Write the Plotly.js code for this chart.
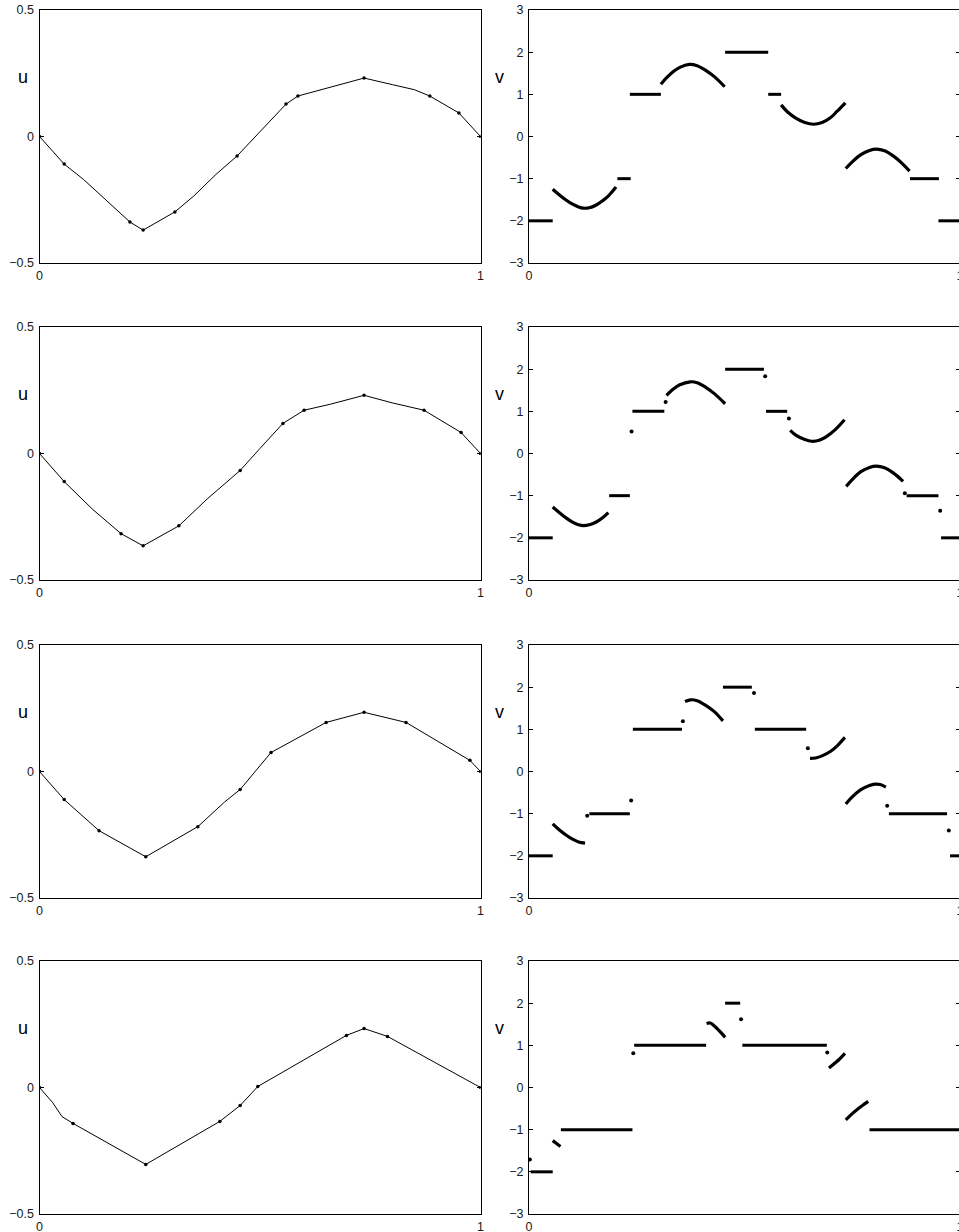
<!DOCTYPE html>
<html>
<head>
<meta charset="utf-8">
<script src="https://cdn.plot.ly/plotly-3.0.1.min.js"></script>
<style>
  html, body { margin: 0; padding: 0; overflow: hidden; background: #fff; }
  #chart { width: 964px; height: 1232px; }
</style>
</head>
<body>
<div id="chart"></div>
<script>
// ---- u(x): solution curve and node values, one set per row ----
const u1LineX = [0, 0.056, 0.10, 0.15, 0.205, 0.235, 0.307, 0.35, 0.40, 0.448, 0.50, 0.559, 0.586, 0.65, 0.70, 0.736, 0.80, 0.85, 0.885, 0.951, 1];
const u1LineY = [0, -0.109, -0.170, -0.250, -0.338, -0.370, -0.298, -0.235, -0.150, -0.077, 0.020, 0.128, 0.160, 0.190, 0.212, 0.231, 0.205, 0.185, 0.160, 0.093, 0];
const u1NodeX = [0, 0.056, 0.205, 0.235, 0.307, 0.448, 0.559, 0.586, 0.736, 0.885, 0.951, 1];
const u1NodeY = [0, -0.109, -0.338, -0.370, -0.298, -0.077, 0.128, 0.160, 0.231, 0.160, 0.093, 0];

const u2LineX = [0, 0.056, 0.12, 0.185, 0.235, 0.316, 0.38, 0.455, 0.50, 0.552, 0.600, 0.66, 0.736, 0.80, 0.872, 0.956, 1];
const u2LineY = [0, -0.111, -0.220, -0.317, -0.365, -0.286, -0.180, -0.067, 0.020, 0.119, 0.171, 0.195, 0.230, 0.200, 0.171, 0.083, 0];
const u2NodeX = [0, 0.056, 0.185, 0.235, 0.316, 0.455, 0.552, 0.600, 0.736, 0.872, 0.956, 1];
const u2NodeY = [0, -0.111, -0.317, -0.365, -0.286, -0.067, 0.119, 0.171, 0.230, 0.171, 0.083, 0];

const u3LineX = [0, 0.056, 0.135, 0.241, 0.359, 0.42, 0.455, 0.525, 0.650, 0.736, 0.831, 0.976, 1];
const u3LineY = [0, -0.111, -0.234, -0.337, -0.218, -0.120, -0.071, 0.075, 0.194, 0.234, 0.194, 0.044, 0];
const u3NodeX = [0, 0.056, 0.135, 0.241, 0.359, 0.455, 0.525, 0.650, 0.736, 0.831, 0.976, 1];
const u3NodeY = [0, -0.111, -0.234, -0.337, -0.218, -0.071, 0.075, 0.194, 0.234, 0.194, 0.044, 0];

const u4LineX = [0, 0.03, 0.051, 0.076, 0.241, 0.409, 0.455, 0.495, 0.696, 0.736, 0.789, 1];
const u4LineY = [0, -0.060, -0.115, -0.142, -0.304, -0.134, -0.071, 0.004, 0.206, 0.233, 0.202, 0];
const u4NodeX = [0, 0.076, 0.241, 0.409, 0.455, 0.495, 0.696, 0.736, 0.789, 1];
const u4NodeY = [0, -0.142, -0.304, -0.134, -0.071, 0.004, 0.206, 0.233, 0.202, 0];

// ---- v(x): constant pieces [xStart, xEnd, value], curved pieces, isolated values ----
const v1Flat = [[0, 0.055, -2], [0.205, 0.236, -1], [0.234, 0.306, 1], [0.455, 0.555, 2], [0.555, 0.585, 1], [0.884, 0.951, -1], [0.950, 1, -2]];
const v1ArcX = [
  [0.055, 0.07, 0.085, 0.10, 0.115, 0.126, 0.14, 0.155, 0.17, 0.185, 0.202],
  [0.306, 0.32, 0.335, 0.35, 0.372, 0.39, 0.41, 0.43, 0.454],
  [0.585, 0.60, 0.62, 0.64, 0.66, 0.68, 0.70, 0.715, 0.734],
  [0.735, 0.75, 0.77, 0.79, 0.806, 0.825, 0.845, 0.865, 0.883]
];
const v1ArcY = [
  [-1.25, -1.38, -1.50, -1.60, -1.67, -1.70, -1.69, -1.63, -1.53, -1.40, -1.20],
  [1.24, 1.40, 1.54, 1.64, 1.71, 1.68, 1.57, 1.42, 1.18],
  [0.75, 0.58, 0.43, 0.33, 0.29, 0.33, 0.45, 0.60, 0.80],
  [-0.76, -0.60, -0.43, -0.33, -0.30, -0.34, -0.46, -0.63, -0.82]
];
const v1DotX = [];
const v1DotY = [];

const v2Flat = [[0, 0.055, -2], [0.186, 0.234, -1], [0.240, 0.314, 1], [0.455, 0.545, 2], [0.550, 0.599, 1], [0.876, 0.950, -1], [0.956, 1, -2]];
const v2ArcX = [
  [0.055, 0.07, 0.085, 0.10, 0.115, 0.126, 0.14, 0.155, 0.17, 0.184],
  [0.319, 0.335, 0.35, 0.374, 0.39, 0.41, 0.43, 0.455],
  [0.606, 0.62, 0.64, 0.656, 0.675, 0.69, 0.71, 0.732],
  [0.736, 0.75, 0.77, 0.79, 0.806, 0.825, 0.845, 0.868]
];
const v2ArcY = [
  [-1.27, -1.40, -1.52, -1.62, -1.69, -1.71, -1.69, -1.63, -1.53, -1.40],
  [1.38, 1.53, 1.63, 1.70, 1.68, 1.57, 1.42, 1.18],
  [0.55, 0.43, 0.33, 0.29, 0.32, 0.40, 0.56, 0.80],
  [-0.78, -0.62, -0.43, -0.33, -0.30, -0.34, -0.46, -0.66]
];
const v2DotX = [0.238, 0.317, 0.548, 0.603, 0.872, 0.954];
const v2DotY = [0.52, 1.22, 1.83, 0.83, -0.94, -1.36];

const v3Flat = [[0, 0.055, -2], [0.14, 0.234, -1], [0.241, 0.355, 1], [0.45, 0.517, 2], [0.524, 0.643, 1], [0.835, 0.97, -1], [0.977, 1, -2]];
const v3ArcX = [
  [0.055, 0.07, 0.085, 0.10, 0.115, 0.13],
  [0.362, 0.375, 0.39, 0.41, 0.43, 0.450],
  [0.652, 0.665, 0.68, 0.70, 0.715, 0.733],
  [0.735, 0.75, 0.77, 0.79, 0.803, 0.815, 0.828]
];
const v3ArcY = [
  [-1.24, -1.38, -1.50, -1.60, -1.67, -1.70],
  [1.66, 1.70, 1.68, 1.57, 1.42, 1.20],
  [0.31, 0.32, 0.37, 0.48, 0.61, 0.81],
  [-0.77, -0.60, -0.43, -0.33, -0.30, -0.31, -0.37]
];
const v3DotX = [0.135, 0.237, 0.357, 0.522, 0.647, 0.831, 0.974];
const v3DotY = [-1.05, -0.69, 1.19, 1.86, 0.55, -0.81, -1.40];

const v4Flat = [[0.004, 0.055, -2], [0.074, 0.240, -1], [0.244, 0.411, 1], [0.455, 0.490, 2], [0.495, 0.691, 1], [0.790, 1, -1]];
const v4ArcX = [
  [0.055, 0.064, 0.073],
  [0.412, 0.42, 0.43, 0.44, 0.455],
  [0.696, 0.71, 0.72, 0.733],
  [0.735, 0.75, 0.765, 0.777, 0.787]
];
const v4ArcY = [
  [-1.26, -1.33, -1.40],
  [1.52, 1.53, 1.46, 1.36, 1.19],
  [0.46, 0.58, 0.67, 0.81],
  [-0.77, -0.62, -0.49, -0.40, -0.33]
];
const v4DotX = [0.002, 0.242, 0.492, 0.692];
const v4DotY = [-1.71, 0.81, 1.62, 0.83];

// ---- tick labels ----
const xTickVals = [0, 1];
const xTickText = ['0', '1'];
const uTickVals = [-0.5, 0, 0.5];
const vTickVals = [-3, -2, -1, 0, 1, 2, 3];

// ---- figure geometry (pixels) ----
const FIG_W = 964, FIG_H = 1232;
const rowTops = [10, 327, 645, 961];
const PANEL_H = 253;
const leftX = [39.5, 480.5];
const rightX = [529, 960];

const uRows = [
  [u1LineX, u1LineY, u1NodeX, u1NodeY],
  [u2LineX, u2LineY, u2NodeX, u2NodeY],
  [u3LineX, u3LineY, u3NodeX, u3NodeY],
  [u4LineX, u4LineY, u4NodeX, u4NodeY]
];
const vRows = [
  [v1Flat, v1ArcX, v1ArcY, v1DotX, v1DotY],
  [v2Flat, v2ArcX, v2ArcY, v2DotX, v2DotY],
  [v3Flat, v3ArcX, v3ArcY, v3DotX, v3DotY],
  [v4Flat, v4ArcX, v4ArcY, v4DotX, v4DotY]
];

const FONT = 'Liberation Sans, Arial, Helvetica, sans-serif';
const TICK_SIZE = 12.5;
const traces = [];
const layout = {
  width: FIG_W, height: FIG_H,
  margin: {l: 0, r: 0, t: 0, b: 0},
  paper_bgcolor: '#fff', plot_bgcolor: '#fff',
  showlegend: false,
  font: {family: FONT, size: TICK_SIZE, color: '#000'},
  annotations: []
};

function axisPair(idx, xPix, top, yRange, yTicks) {
  const sx = idx === 1 ? '' : String(idx);
  const yDom = [1 - (top + PANEL_H) / FIG_H, 1 - top / FIG_H];
  const common = {
    showline: true, linecolor: '#000', linewidth: 1, mirror: 'ticks',
    ticks: 'inside', ticklen: 4, tickwidth: 1, tickcolor: '#000',
    showgrid: false, zeroline: false, fixedrange: true,
    tickfont: {family: FONT, size: TICK_SIZE, color: '#1a1a1a'}
  };
  layout['xaxis' + sx] = Object.assign({}, common, {
    domain: [xPix[0] / FIG_W, xPix[1] / FIG_W], range: [0, 1],
    anchor: 'y' + sx, tickmode: 'array', tickvals: xTickVals, ticktext: xTickText,
    ticklabelstandoff: 1
  });
  layout['yaxis' + sx] = Object.assign({}, common, {
    domain: yDom, range: yRange, anchor: 'x' + sx,
    tickmode: 'array', tickvals: yTicks, ticklabelstandoff: 2
  });
  return {xa: 'x' + sx, ya: 'y' + sx};
}

for (let r = 0; r < 4; r++) {
  const top = rowTops[r];
  // left column: u
  const L = axisPair(2 * r + 1, leftX, top, [-0.5, 0.5], uTickVals);
  const [lx, ly, nx, ny] = uRows[r];
  traces.push({x: lx, y: ly, mode: 'lines', line: {color: '#000', width: 1}, xaxis: L.xa, yaxis: L.ya, hoverinfo: 'skip'});
  traces.push({x: nx, y: ny, mode: 'markers', marker: {color: '#000', size: 3.5}, xaxis: L.xa, yaxis: L.ya, hoverinfo: 'skip'});

  // right column: v
  const R = axisPair(2 * r + 2, rightX, top, [-3, 3], vTickVals);
  const [flat, ax, ay, dx, dy] = vRows[r];
  flat.forEach(s => {
    traces.push({x: [s[0], s[1]], y: [s[2], s[2]], mode: 'lines', line: {color: '#000', width: 3},
      xaxis: R.xa, yaxis: R.ya, hoverinfo: 'skip'});
  });
  ax.forEach((seg, i) => {
    traces.push({x: seg, y: ay[i], mode: 'lines', line: {color: '#000', width: 3.2, shape: 'spline', smoothing: 1},
      xaxis: R.xa, yaxis: R.ya, hoverinfo: 'skip'});
  });
  if (dx.length) {
    traces.push({x: dx, y: dy, mode: 'markers', marker: {color: '#000', size: 4}, xaxis: R.xa, yaxis: R.ya, hoverinfo: 'skip'});
  }

  // axis names drawn horizontally beside each panel
  layout.annotations.push({
    text: 'u', xref: 'paper', yref: 'paper', x: 22.5 / FIG_W, y: 1 - (top + 67) / FIG_H,
    xanchor: 'center', yanchor: 'middle', showarrow: false,
    font: {family: FONT, size: 18, color: '#000'}
  });
  layout.annotations.push({
    text: 'v', xref: 'paper', yref: 'paper', x: 499 / FIG_W, y: 1 - (top + 67) / FIG_H,
    xanchor: 'center', yanchor: 'middle', showarrow: false,
    font: {family: FONT, size: 18, color: '#000'}
  });
}

Plotly.newPlot('chart', traces, layout, {staticPlot: true, displayModeBar: false});
</script>
</body>
</html>
